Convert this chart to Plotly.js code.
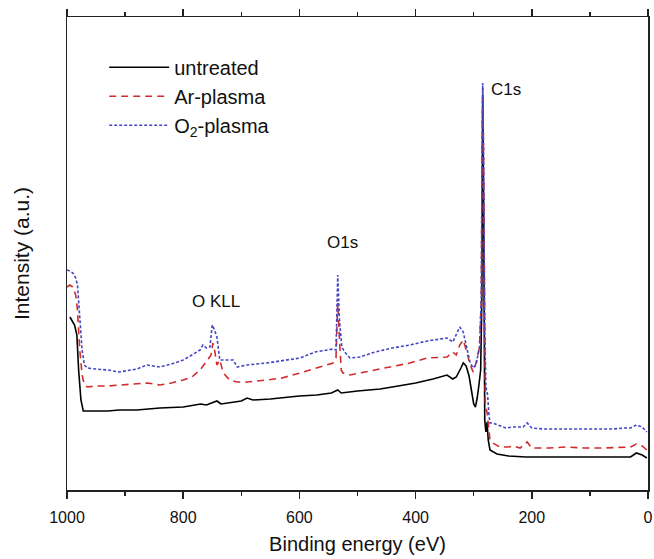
<!DOCTYPE html>
<html>
<head>
<meta charset="utf-8">
<script src="https://cdn.plot.ly/plotly-3.0.1.min.js"></script>
<style>html,body{margin:0;padding:0;background:#fff;}#chart{width:654px;height:559px;}</style>
</head>
<body>
<div id="chart"></div>
<script>
// Binding energy (eV) and intensity (a.u.)
const untreatedE = [995,987,983,980,976,972,969,950,930,910,880,860,840,800,770,760,750,742,735,720,700,690,680,650,620,600,570,545,534,528,500,461,430,400,370,346,336,330,322,318,313,308,304,300,297,294,291,288,286,284.5,283,281,279,277,275,272,260,240,210,180,150,120,90,60,30,20,10,2];
const untreatedI = [173,165,155,120,90,79,79,79,79,80,80,81,82,83,86,85,87,89,86,87,89,92,90,91,93,94,95,97,100,97,99,101,104,107,111,115,111,113,122,127,124,114,100,86,83,92,105,120,190,395,290,70,58,68,50,40,36,34,33,33,33,33,33,33,33,37,35,32];

const arE = [1000,995,990,985,982,978,974,970,965,950,930,910,880,862,840,820,800,785,771,760,752,749,746,742,737,731,720,707,690,656,630,599,570,542,537,534,531,528,525,513,496,470,440,410,380,346,336,330,324,318,312,306,301,296,290,287,285.5,284.5,283,280,277,272,267,255,240,232,220,208,200,170,140,110,80,50,30,20,10,2];
const arI = [203,205,203,195,180,140,115,105,103,104,104,105,106,107,105,107,110,113,120,128,135,147,140,125,130,117,110,108,108,110,112,117,122,127,132,187,150,120,117,115,117,120,123,127,132,133,138,135,145,150,138,125,118,127,143,190,340,402,330,83,78,50,47,43,43,44,42,48,42,42,43,42,42,43,43,46,44,40];

const o2E = [1000,995,990,985,982,978,974,970,965,950,930,910,880,862,840,820,800,785,771,766,760,754,750,746,742,737,725,714,707,690,656,630,599,573,550,542,537,534,531,527,522,513,496,470,440,410,380,346,336,330,324,318,312,306,301,296,290,287,285.5,284.5,283,281,279,276,274,272,267,255,245,232,215,208,200,180,150,120,90,60,40,30,20,10,2];
const o2I = [220,219,217,212,205,173,140,125,122,121,120,118,121,125,123,126,130,135,140,145,142,143,165,160,153,130,130,130,123,125,127,129,132,138,140,141,140,215,170,143,138,132,133,138,142,145,149,152,148,155,163,158,143,127,122,125,143,190,340,407,340,160,103,95,77,67,67,64,62,63,63,67,62,61,61,61,61,61,62,62,65,63,58];

const seriesNames = ['untreated', 'Ar-plasma', 'O<sub>2</sub>-plasma'];
const xTickVals = [1000, 800, 600, 400, 200, 0];
const peakLabels = ['O KLL', 'O1s', 'C1s'];
const peakLabelE = [743, 525, 244];
const peakLabelI = [189, 248, 401];

const FONT = 'Liberation Sans, Arial, Helvetica, sans-serif';

const traces = [
  {x: untreatedE, y: untreatedI, name: seriesNames[0], mode: 'lines',
   line: {color: '#000000', width: 1.6}},
  {x: arE, y: arI, name: seriesNames[1], mode: 'lines',
   line: {color: '#d22b2b', width: 1.6, dash: '7px,5px'}},
  {x: o2E, y: o2I, name: seriesNames[2], mode: 'lines',
   line: {color: '#4646c4', width: 1.6, dash: '3px,2px'}}
];

const layout = {
  width: 654, height: 559,
  margin: {l: 67, r: 6, t: 17, b: 69},
  paper_bgcolor: '#ffffff', plot_bgcolor: '#ffffff',
  font: {family: FONT, color: '#111111'},
  showlegend: true,
  legend: {x: 0.064, y: 0.935, xanchor: 'left', yanchor: 'top',
    bgcolor: 'rgba(0,0,0,0)', borderwidth: 0, font: {size: 20, family: FONT},
    itemwidth: 60, tracegroupgap: 0},
  xaxis: {
    range: [1000, 0], tickvals: xTickVals, ticks: 'outside', ticklen: 7, tickwidth: 1.5,
    tickcolor: '#222', showline: true, linecolor: '#222', linewidth: 1.5, mirror: 'ticks',
    minor: {dtick: 100, ticks: 'outside', ticklen: 4, tickwidth: 1.5, tickcolor: '#222'},
    showgrid: false, zeroline: false, tickfont: {size: 16, family: FONT},
    ticklabelstandoff: 5,
    title: {text: 'Binding energy (eV)', font: {size: 20, family: FONT}, standoff: 12}
  },
  yaxis: {
    range: [0, 473], showticklabels: false, ticks: '', showline: true, linecolor: '#222',
    linewidth: 1.5, mirror: true, showgrid: false, zeroline: false,
    title: {text: 'Intensity (a.u.)', font: {size: 21, family: FONT}, standoff: 30}
  },
  annotations: peakLabels.map((t, i) => ({
    x: peakLabelE[i], y: peakLabelI[i], xref: 'x', yref: 'y', text: t, showarrow: false,
    font: {size: 17, family: FONT, color: '#111'}
  }))
};

Plotly.newPlot('chart', traces, layout, {displayModeBar: false, staticPlot: true});
</script>
</body>
</html>
